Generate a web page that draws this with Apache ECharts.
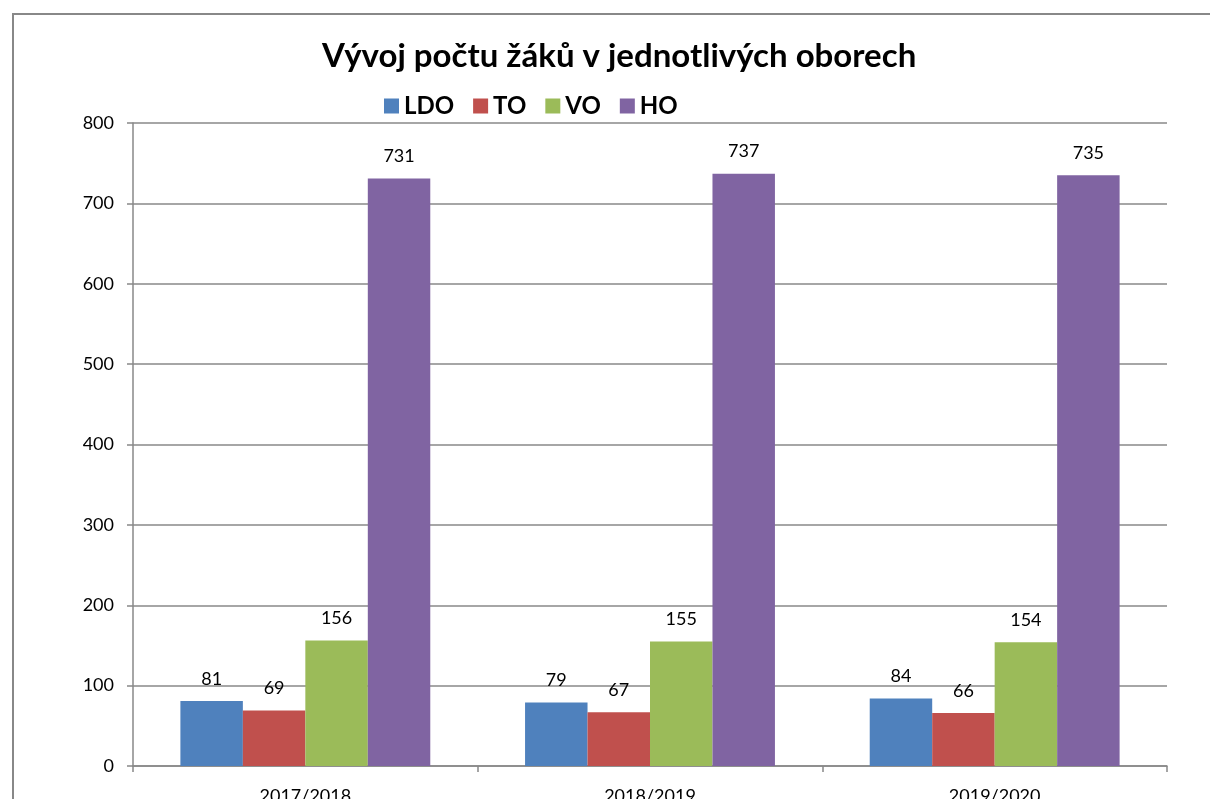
<!DOCTYPE html>
<html><head><meta charset="utf-8">
<script src="https://cdn.jsdelivr.net/npm/echarts@6/dist/echarts.min.js"></script>
<style>html,body{margin:0;padding:0;background:#fff}#c{width:1210px;height:799px}</style>
</head><body><div id="c"></div>
<script>
const categories = ['2017/2018', '2018/2019', '2019/2020'];
const seriesNames = ['LDO', 'TO', 'VO', 'HO'];
const LDO = [81, 79, 84];
const TO = [69, 67, 66];
const VO = [156, 155, 154];
const HO = [731, 737, 735];
const yTicks = [0, 100, 200, 300, 400, 500, 600, 700, 800];
const colors = ['#4f81bd', '#c0504d', '#9bbb59', '#8064a2'];
const values = [LDO, TO, VO, HO];
const font = 'Lato, "Open Sans", sans-serif';

const chart = echarts.init(document.getElementById('c'));
chart.setOption({
  animation: false,
  color: colors,
  title: {
    text: 'Vývoj počtu žáků v jednotlivých oborech',
    left: 317, top: 35,
    textStyle: { fontFamily: font, fontSize: 33, fontWeight: 'bold', color: '#000' }
  },
  legend: {
    top: 89, left: 379,
    itemWidth: 15, itemHeight: 15, itemGap: 19,
    icon: 'rect',
    textStyle: { fontFamily: font, fontSize: 24, fontWeight: 'bold', color: '#000' },
    data: seriesNames
  },
  graphic: [{
    type: 'rect', shape: { x: 13, y: 14, width: 1300, height: 900 },
    style: { fill: 'none', stroke: '#888', lineWidth: 2 }, silent: true
  }],
  grid: { left: 133, top: 123, right: 43, bottom: 33, containLabel: false, outerBoundsMode: 'none' },
  xAxis: {
    type: 'category', data: categories,
    axisLine: { lineStyle: { color: '#888', width: 1.5 } },
    axisTick: { show: true, length: 6, lineStyle: { color: '#888', width: 1.5 } },
    axisLabel: { fontFamily: font, fontSize: 18, color: '#000', margin: 21 }
  },
  yAxis: {
    type: 'value', min: yTicks[0], max: yTicks[yTicks.length - 1], interval: 100,
    axisLine: { show: true, lineStyle: { color: '#888', width: 1.5 } },
    axisTick: { show: true, length: 6, lineStyle: { color: '#888', width: 1.5 } },
    splitLine: { lineStyle: { color: '#888', width: 1.5 } },
    axisLabel: { fontFamily: font, fontSize: 18, color: '#000', margin: 19 }
  },
  series: seriesNames.map((n, i) => ({
    name: n, type: 'bar', data: values[i],
    barGap: '0%', barCategoryGap: '27.5%',
    itemStyle: { color: colors[i] },
    label: { show: true, position: 'top', distance: 13, fontFamily: font, fontSize: 18, color: '#000' }
  }))
});
</script></body></html>
